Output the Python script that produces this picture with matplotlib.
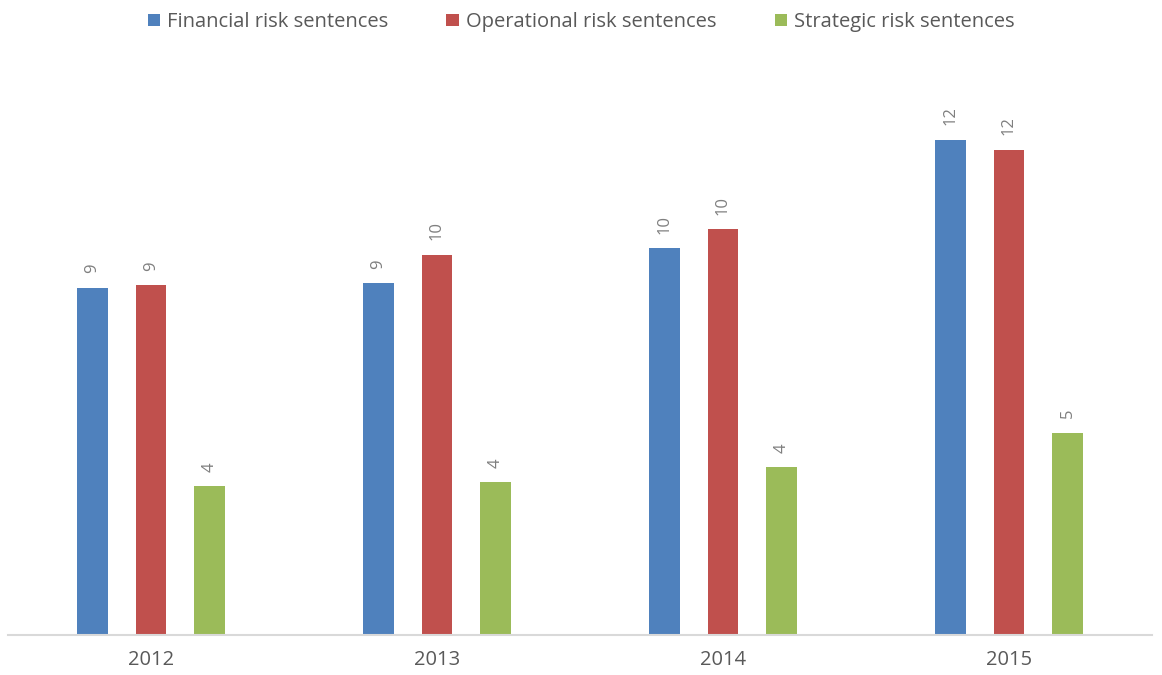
import matplotlib
matplotlib.use("Agg")
import matplotlib.pyplot as plt
import numpy as np

years = ["2012", "2013", "2014", "2015"]
series_names = ["Financial risk sentences", "Operational risk sentences", "Strategic risk sentences"]
financial = [8.72, 8.84, 9.72, 12.44]
operational = [8.79, 9.55, 10.2, 12.19]
strategic = [3.74, 3.84, 4.22, 5.08]
colors = ["#4F81BD", "#C0504D", "#9BBB59"]

plt.rcParams['font.family'] = ['Open Sans', 'DejaVu Sans']

fig = plt.figure(figsize=(11.62, 6.75), dpi=100)
ax = fig.add_axes([8/1162, 1 - 635/675, 1144/1162, 557/675])

x = np.arange(len(years))
offsets = [-0.205, 0.0, 0.205]
width = 0.108
for vals, name, c, off in zip([financial, operational, strategic], series_names, colors, offsets):
    bars = ax.bar(x + off, vals, width=width, color=c, label=name, zorder=2)
    for b, v in zip(bars, vals):
        ax.annotate(f"{v:.0f}", (b.get_x() + b.get_width()/2, v),
                    xytext=(0, 10.5), textcoords="offset points",
                    rotation=90, ha="center", va="bottom",
                    fontsize=12, color="#7F7F7F")

ax.set_xlim(-0.5, 3.5)
ax.set_ylim(0, 14)
ax.set_yticks([])
for s in ["top", "right", "left"]:
    ax.spines[s].set_visible(False)
ax.spines["bottom"].set_color("#D9D9D9")
ax.spines["bottom"].set_linewidth(1.5)
ax.set_xticks(x)
ax.set_xticklabels(years, fontsize=14.5, color="#595959")
ax.tick_params(axis="x", length=0, pad=11)

leg = fig.legend(loc="center", bbox_to_anchor=(0.5, 1 - 22/675), ncol=3,
                 frameon=False, fontsize=14.5, handlelength=0.6, handleheight=0.6,
                 handletextpad=0.35, columnspacing=2.9, labelcolor="#595959")

fig.savefig("out.png", dpi=100)
